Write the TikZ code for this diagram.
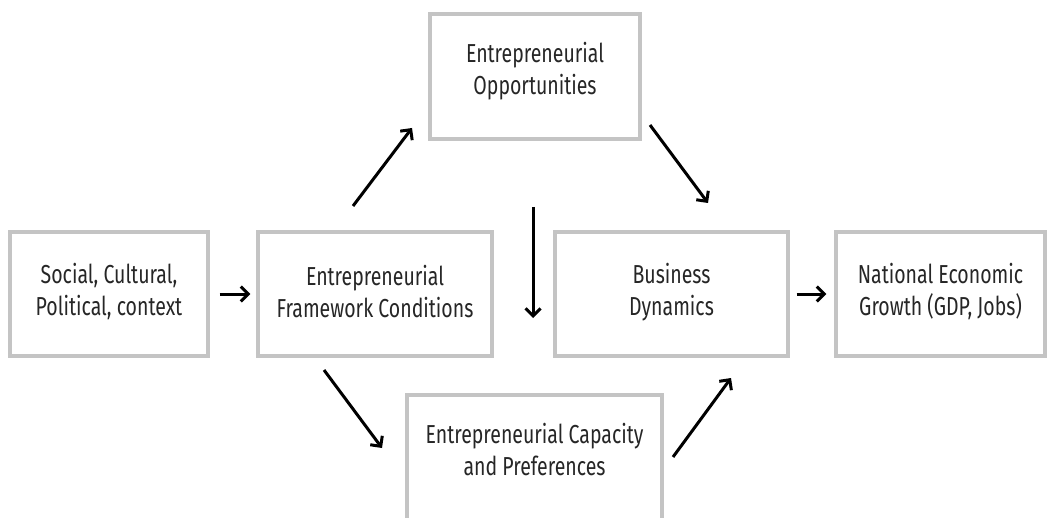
\documentclass[tikz,border=0pt]{standalone}
\usepackage{fontspec}
\setmainfont{Fira Sans}[FakeStretch=0.75]
\usetikzlibrary{arrows.meta}
\definecolor{boxgray}{HTML}{C4C4C4}
\definecolor{txtgray}{HTML}{262626}
\tikzset{
  box/.style={draw=boxgray, line width=3.2pt, fill=white, inner sep=0pt},
  txt/.style={text=txtgray, align=center, font=\fontsize{26}{32}\selectfont, inner sep=0pt},
  arr/.style={line width=3pt, black, -{Straight Barb[length=7.5pt,width=15pt,line width=3pt]}}
}
\begin{document}
\begin{tikzpicture}[x=1pt,y=-1pt]
\useasboundingbox (0,0) rectangle (1048,518);
\clip (0,0) rectangle (1048,518);
\fill[white] (0,0) rectangle (1048,518);
% boxes
\node[box, minimum width=198pt, minimum height=124pt] (soc) at (109,294) {};
\node[box, minimum width=234pt, minimum height=124pt] (fw) at (375,294) {};
\node[box, minimum width=210pt, minimum height=125pt] (opp) at (535,76.5) {};
\node[box, minimum width=233pt, minimum height=124pt] (bd) at (671.5,294) {};
\node[box, minimum width=209pt, minimum height=124pt] (neg) at (940.5,294) {};
\node[box, minimum width=255pt, minimum height=150pt] (cap) at (534.5,470) {};
% texts
\node[txt] (soct) at (109,292) {Social, Cultural,\\Political, context};
\node[txt] (fwt) at (375,292) {Entrepreneurial\\Framework Conditions};
\node[txt] (oppt) at (535,71) {Entrepreneurial\\Opportunities};
\node[txt] (bdt) at (671.5,292) {Business\\Dynamics};
\node[txt] (negt) at (940.5,292) {National Economic\\Growth (GDP, Jobs)};
\node[txt] (capt) at (534.5,450) {Entrepreneurial Capacity\\and Preferences};
% arrow end points
\coordinate (a1s) at (353,206); \coordinate (a1e) at (412,128);
\coordinate (a2s) at (650,125); \coordinate (a2e) at (708,203);
\coordinate (a3s) at (324,370); \coordinate (a3e) at (382,448);
\coordinate (a4s) at (673,457); \coordinate (a4e) at (731,378);
\coordinate (a5s) at (533,207); \coordinate (a5e) at (533,318);
% connectors
\draw[arr, shorten <=10pt, shorten >=6pt] (soc.east) -- (fw.west);
\draw[arr, shorten <=7pt, shorten >=8pt] (bd.east) -- (neg.west);
\draw[arr] (a1s) -- (a1e);
\draw[arr] (a2s) -- (a2e);
\draw[arr] (a3s) -- (a3e);
\draw[arr] (a4s) -- (a4e);
\draw[arr] (a5s) -- (a5e);
\end{tikzpicture}
\end{document}
